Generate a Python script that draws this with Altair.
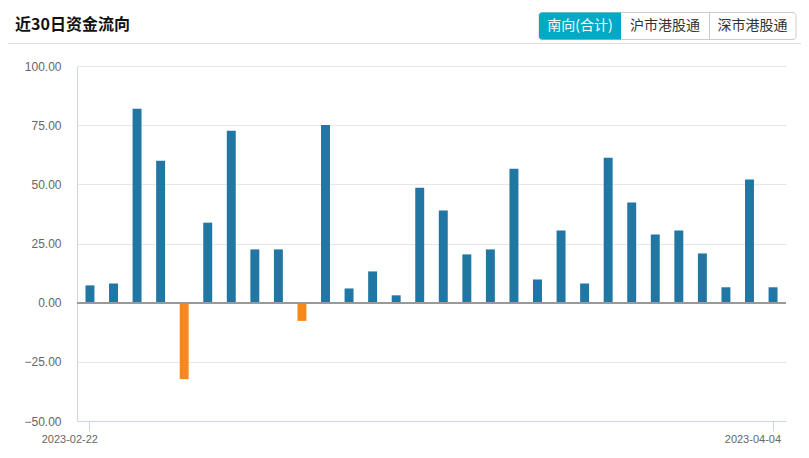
import altair as alt
import pandas as pd

# ---- data ----
dates = ["2023-02-22", "2023-02-23", "2023-02-24", "2023-02-27", "2023-02-28",
         "2023-03-01", "2023-03-02", "2023-03-03", "2023-03-06", "2023-03-07",
         "2023-03-08", "2023-03-09", "2023-03-10", "2023-03-13", "2023-03-14",
         "2023-03-15", "2023-03-16", "2023-03-17", "2023-03-20", "2023-03-21",
         "2023-03-22", "2023-03-23", "2023-03-24", "2023-03-27", "2023-03-28",
         "2023-03-29", "2023-03-30", "2023-03-31", "2023-04-03", "2023-04-04"]
values = [7.3, 8.1, 81.9, 60.0, -32.3, 33.8, 72.6, 22.5, 22.5, -7.7,
          75.1, 6.0, 13.2, 3.1, 48.6, 38.9, 20.4, 22.5, 56.6, 9.8,
          30.5, 8.1, 61.2, 42.3, 28.8, 30.5, 20.8, 6.5, 52.0, 6.5]
y_ticks = [-50, -25, 0, 25, 50, 75, 100]
title_text = "近30日资金流向"
tab_labels = ["南向(合计)", "沪市港股通", "深市港股通"]

df = pd.DataFrame({"date": dates, "v": values})

BLUE = "#2176a3"
ORANGE = "#f7891a"
TEAL = "#00aac4"
AXIS = "#ccd6eb"
FONT = "Liberation Sans"
CJK = "Noto Sans CJK SC"

bars = alt.Chart(df).mark_bar().encode(
    x=alt.X("date:N", sort=dates,
            scale=alt.Scale(paddingInner=0.62, paddingOuter=0.36),
            axis=alt.Axis(title=None, values=[dates[0], dates[-1]], labelAngle=0,
                          labelAlign="right", labelOffset=8, labelPadding=2,
                          labelFont=FONT, labelFontSize=11, labelColor="#666666",
                          tickSize=10, tickColor=AXIS, domainColor=AXIS, grid=False)),
    y=alt.Y("v:Q", scale=alt.Scale(domain=[-50, 100], nice=False, zero=False),
            axis=alt.Axis(title=None, values=y_ticks, format=".2f", ticks=False,
                          labelPadding=16, labelFont=FONT, labelFontSize=12,
                          labelColor="#666666", domainColor=AXIS,
                          gridColor="#e6e6e6", grid=True)),
    color=alt.condition(alt.datum.v < 0, alt.value(ORANGE), alt.value(BLUE)),
)

zero = alt.Chart(df).mark_rule(color="#999999", strokeWidth=1).encode(y=alt.datum(0))

one = alt.Data(values=[{}])

title = alt.Chart(one).mark_text(
    text=title_text, align="left", baseline="middle", font=CJK,
    fontSize=16, fontWeight="bold", color="#111111"
).encode(x=alt.value(-62), y=alt.value(-41))

sep = alt.Chart(one).mark_rule(color="#dddddd", strokeWidth=1).encode(
    x=alt.value(-69), x2=alt.value(724), y=alt.value(-22.5))

tab_edges = [462, 544, 632, 719]
tab_box = alt.Chart(one).mark_rect(
    fill="white", stroke="#cccccc", strokeWidth=1, cornerRadius=3
).encode(x=alt.value(tab_edges[0]), x2=alt.value(tab_edges[3]),
         y=alt.value(-53.5), y2=alt.value(-26.5))
tab_active = alt.Chart(one).mark_rect(
    fill=TEAL, cornerRadiusTopLeft=3, cornerRadiusBottomLeft=3
).encode(x=alt.value(tab_edges[0]), x2=alt.value(tab_edges[1]),
         y=alt.value(-53.5), y2=alt.value(-26.5))
tab_div = alt.Chart(one).mark_rule(color="#cccccc", strokeWidth=1).encode(
    x=alt.value(tab_edges[2] + 0.5), y=alt.value(-53.5), y2=alt.value(-26.5))

tab_texts = []
for i, lab in enumerate(tab_labels):
    cx = (tab_edges[i] + tab_edges[i + 1]) / 2
    tab_texts.append(alt.Chart(one).mark_text(
        text=lab, align="center", baseline="middle", font=CJK, fontSize=14,
        color="white" if i == 0 else "#333333"
    ).encode(x=alt.value(cx), y=alt.value(-40)))

chart = alt.layer(bars, zero, title, sep, tab_box, tab_active, tab_div, *tab_texts).properties(
    width=709, height=355,
    padding={"left": 69, "top": 58, "right": 15, "bottom": 29},
    autosize=alt.AutoSizeParams(type="none"),
    background="white",
).configure_view(strokeWidth=0)

chart.save("out.html", embed_options={"renderer": "svg", "actions": False})
